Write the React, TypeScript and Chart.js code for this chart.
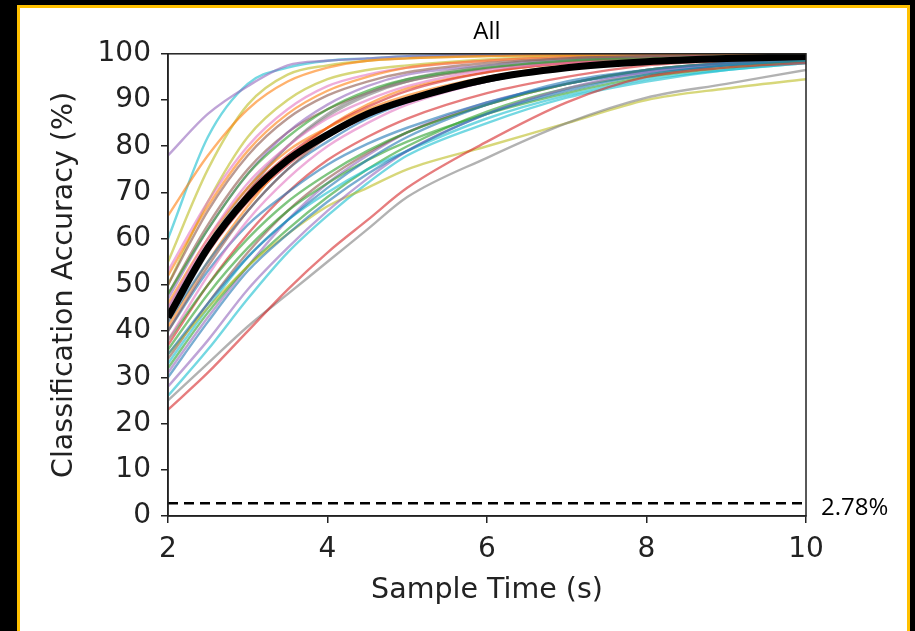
import React, { useEffect, useRef } from "react";
import { Chart, registerables } from "chart.js";

Chart.register(...registerables);

// Sample times (s)
const sampleTimes = [2, 2.5, 3, 3.5, 4, 4.5, 5, 6, 7, 8, 9, 10];

// Per-subject classification accuracy (%)
const subj01 = [35, 46, 56, 64, 71, 77, 82, 89, 94, 96.5, 98, 99];
const subj02 = [65, 78, 88, 94, 97, 98.5, 99, 99.5, 99.8, 100, 100, 100];
const subj03 = [48, 62, 74, 82, 88, 92, 94.5, 97, 98.5, 99, 99.5, 99.8];
const subj04 = [23, 31, 40, 49, 57, 64, 71, 81, 89.5, 95, 97, 98];
const subj05 = [78, 87, 93, 97.5, 98.5, 99, 99.5, 99.8, 100, 100, 100, 100];
const subj06 = [40, 54, 66, 75, 82, 87, 90, 94, 97, 98.5, 99, 99.5];
const subj07 = [45, 60, 72, 80, 86, 90, 93, 96.5, 98, 99, 99.5, 99.7];
const subj08 = [25, 33, 41, 48, 55, 62, 69, 77.5, 85, 90.5, 93.5, 96.5];
const subj09 = [55, 75, 89, 95.5, 97.5, 98.5, 99, 99.5, 99.8, 100, 100, 100];
const subj10 = [60, 82, 93.5, 97, 98.5, 99, 99.5, 99.8, 100, 100, 100, 100];
const subj11 = [30, 42, 53, 61, 68, 74, 79, 87, 92, 95.5, 97.5, 98.5];
const subj12 = [46, 60, 71, 79, 84, 88, 91, 95, 97.5, 98.5, 99, 99.5];
const subj13 = [36, 48, 58, 66, 72, 77, 81, 87, 91.5, 95, 97, 98.5];
const subj14 = [44, 58, 70, 78, 84, 88.5, 92, 96, 98, 99, 99.5, 99.7];
const subj15 = [28, 38, 49, 58, 66, 73, 79, 87, 92.5, 96, 98, 99];
const subj16 = [50, 66, 78, 86, 91, 94, 96, 98, 99, 99.5, 99.8, 100];
const subj17 = [38, 52, 64, 73, 80, 85, 89, 94, 97, 98.5, 99, 99.5];
const subj18 = [42, 57, 70, 80, 87, 91.5, 94.5, 97.5, 99, 99.5, 99.8, 100];
const subj19 = [35, 45, 54, 61, 67, 71, 75, 80, 85, 90, 92.5, 94.5];
const subj20 = [33, 45, 56, 64, 70, 75, 79, 86, 91, 94.5, 96.5, 98];
const subj21 = [40, 53, 63, 70, 76, 80.5, 84, 89.5, 93.5, 96, 97.5, 98.5];
const subj22 = [52, 67, 79, 87, 92, 95, 97, 98.5, 99.3, 99.7, 100, 100];
const subj23 = [38, 50, 60, 68, 74, 79, 83, 89, 93.5, 96.5, 98, 99];
const subj24 = [37, 50, 61, 70, 77, 82, 86, 91.5, 95, 97.5, 98.5, 99.3];
const subj25 = [47, 62, 74, 83, 89, 93, 95.5, 97.5, 98.8, 99.5, 99.8, 100];
const subj26 = [34, 46, 57, 66, 73, 78.5, 83, 89, 93.5, 96.5, 98, 99];
const subj27 = [53, 68, 80, 88, 93, 95.5, 97, 98.5, 99.3, 99.7, 100, 100];
const subj28 = [45, 59, 71, 80, 86.5, 91, 94, 97, 98.5, 99.3, 99.7, 100];
const subj29 = [50, 68, 82, 90, 94.5, 96.5, 97.5, 98.8, 99.5, 99.8, 100, 100];
const subj30 = [26, 36, 47, 57, 65, 72, 78, 85, 90.5, 94, 96.5, 98];
const subj31 = [42, 55, 66, 75, 81, 86, 89.5, 94, 97, 98.5, 99.3, 99.7];
const subj32 = [41, 55, 67, 77, 84, 89, 92.5, 96, 98, 99, 99.5, 99.8];
const subj33 = [32, 44, 54, 62, 69, 75, 80, 87.5, 92.5, 95.5, 97.5, 98.7];
const subj34 = [43, 57, 68, 76, 82, 86.5, 90, 94.5, 97, 98.5, 99.2, 99.6];
const subj35 = [31, 43, 54, 64, 72, 78, 83, 89.5, 93.5, 96.5, 98, 99];
const subj36 = [48, 63, 75, 83, 88, 91.5, 94, 96.8, 98.3, 99.2, 99.6, 99.8];

const subjects = [
  subj01, subj02, subj03, subj04, subj05, subj06, subj07, subj08, subj09,
  subj10, subj11, subj12, subj13, subj14, subj15, subj16, subj17, subj18,
  subj19, subj20, subj21, subj22, subj23, subj24, subj25, subj26, subj27,
  subj28, subj29, subj30, subj31, subj32, subj33, subj34, subj35, subj36,
];

// Mean accuracy across subjects (%)
const meanAccuracy = [43, 58, 69, 77, 82.5, 87, 90, 94.5, 97, 98.3, 99, 99.4];

// Chance level (%)
const chanceLevel = 2.78;
const chanceLabel = "2.78%";

const xTicks = [2, 4, 6, 8, 10];
const yTicks = [0, 10, 20, 30, 40, 50, 60, 70, 80, 90, 100];

const palette = [
  "31,119,180", "255,127,14", "44,160,44", "214,39,40", "148,103,189",
  "140,86,75", "227,119,194", "127,127,127", "188,189,34", "23,190,207",
];

const AXIS_COLOR = "#222";
const TICK_FONT = "'DejaVu Sans', sans-serif";
const NOTE_FONT = "'Open Sans', sans-serif";

export default function App() {
  const canvasRef = useRef<HTMLCanvasElement | null>(null);

  useEffect(() => {
    const canvas = canvasRef.current;
    if (!canvas) return;

    const subjectSets = subjects.map((vals, i) => ({
      label: `S${i + 1}`,
      data: vals.map((v, j) => ({ x: sampleTimes[j], y: v })),
      borderColor: `rgba(${palette[i % 10]},0.6)`,
      borderWidth: 2.4,
      pointRadius: 0,
      cubicInterpolationMode: "monotone" as const,
      order: 2,
    }));

    const meanSet = {
      label: "Mean",
      data: meanAccuracy.map((v, j) => ({ x: sampleTimes[j], y: v })),
      borderColor: "#000",
      borderWidth: 7,
      pointRadius: 0,
      cubicInterpolationMode: "monotone" as const,
      order: 0,
    };

    const chanceSet = {
      label: "Chance",
      data: [
        { x: sampleTimes[0], y: chanceLevel },
        { x: sampleTimes[sampleTimes.length - 1], y: chanceLevel },
      ],
      borderColor: "#000",
      borderWidth: 2.5,
      borderDash: [10, 6],
      pointRadius: 0,
      order: 1,
    };

    const framePlugin = {
      id: "frameAndNote",
      afterDraw(chart: any) {
        const { ctx, chartArea } = chart;
        const y = chart.scales.y;
        ctx.save();
        ctx.strokeStyle = AXIS_COLOR;
        ctx.lineWidth = 1.5;
        ctx.strokeRect(chartArea.left, chartArea.top, chartArea.right - chartArea.left, chartArea.bottom - chartArea.top);
        ctx.fillStyle = "#000";
        ctx.font = `24px ${NOTE_FONT}`;
        ctx.textAlign = "left";
        ctx.textBaseline = "middle";
        ctx.fillText(chanceLabel, chartArea.right + 15, y.getPixelForValue(chanceLevel) + 5);
        ctx.restore();
      },
    };

    const chart = new Chart(canvas, {
      type: "line",
      data: { datasets: [meanSet, chanceSet, ...subjectSets] as any },
      options: {
        animation: false,
        responsive: false,
        layout: { padding: { left: 0, right: 109, top: 0, bottom: 0 } },
        plugins: {
          legend: { display: false },
          tooltip: { enabled: false },
          title: {
            display: true,
            text: "All",
            fullSize: false,
            color: "#000",
            font: { family: NOTE_FONT, size: 24, weight: "normal" },
            padding: { top: 18, bottom: 7 },
          },
        },
        scales: {
          x: {
            type: "linear",
            min: 2,
            max: 10,
            afterFit(scale: any) {
              scale.height = 115;
            },
            afterBuildTicks(scale: any) {
              scale.ticks = xTicks.map((v) => ({ value: v }));
            },
            ticks: {
              color: AXIS_COLOR,
              font: { family: TICK_FONT, size: 28 },
              padding: 10,
              maxRotation: 0,
            },
            grid: {
              display: true,
              drawOnChartArea: false,
              drawTicks: true,
              tickLength: 7,
              color: AXIS_COLOR,
              lineWidth: 1.5,
            },
            border: { display: true, color: AXIS_COLOR, width: 1.5 },
            title: {
              display: true,
              text: "Sample Time (s)",
              color: AXIS_COLOR,
              font: { family: TICK_FONT, size: 28.5 },
              padding: { top: 0, bottom: 23 },
            },
          },
          y: {
            type: "linear",
            min: 0,
            max: 100,
            afterFit(scale: any) {
              scale.width = 168;
            },
            afterBuildTicks(scale: any) {
              scale.ticks = yTicks.map((v) => ({ value: v }));
            },
            ticks: {
              color: AXIS_COLOR,
              font: { family: TICK_FONT, size: 28 },
              padding: 10,
            },
            grid: {
              display: true,
              drawOnChartArea: false,
              drawTicks: true,
              tickLength: 7,
              color: AXIS_COLOR,
              lineWidth: 1.5,
            },
            border: { display: true, color: AXIS_COLOR, width: 1.5 },
            title: {
              display: true,
              text: "Classification Accuracy (%)",
              color: AXIS_COLOR,
              font: { family: TICK_FONT, size: 28.5 },
              padding: { top: 47, bottom: 0 },
            },
          },
        },
      },
      plugins: [framePlugin],
    });

    return () => chart.destroy();
  }, []);

  return (
    <div style={{ position: "fixed", left: 0, top: 0, width: 915, height: 631, background: "#000", overflow: "hidden" }}>
      <div
        style={{
          position: "absolute",
          left: 17,
          top: 5,
          width: 887,
          height: 680,
          border: "3px solid #FFC000",
          background: "#fff",
        }}
      />
      <canvas ref={canvasRef} width={915} height={631} style={{ position: "absolute", left: 0, top: 0 }} />
    </div>
  );
}
